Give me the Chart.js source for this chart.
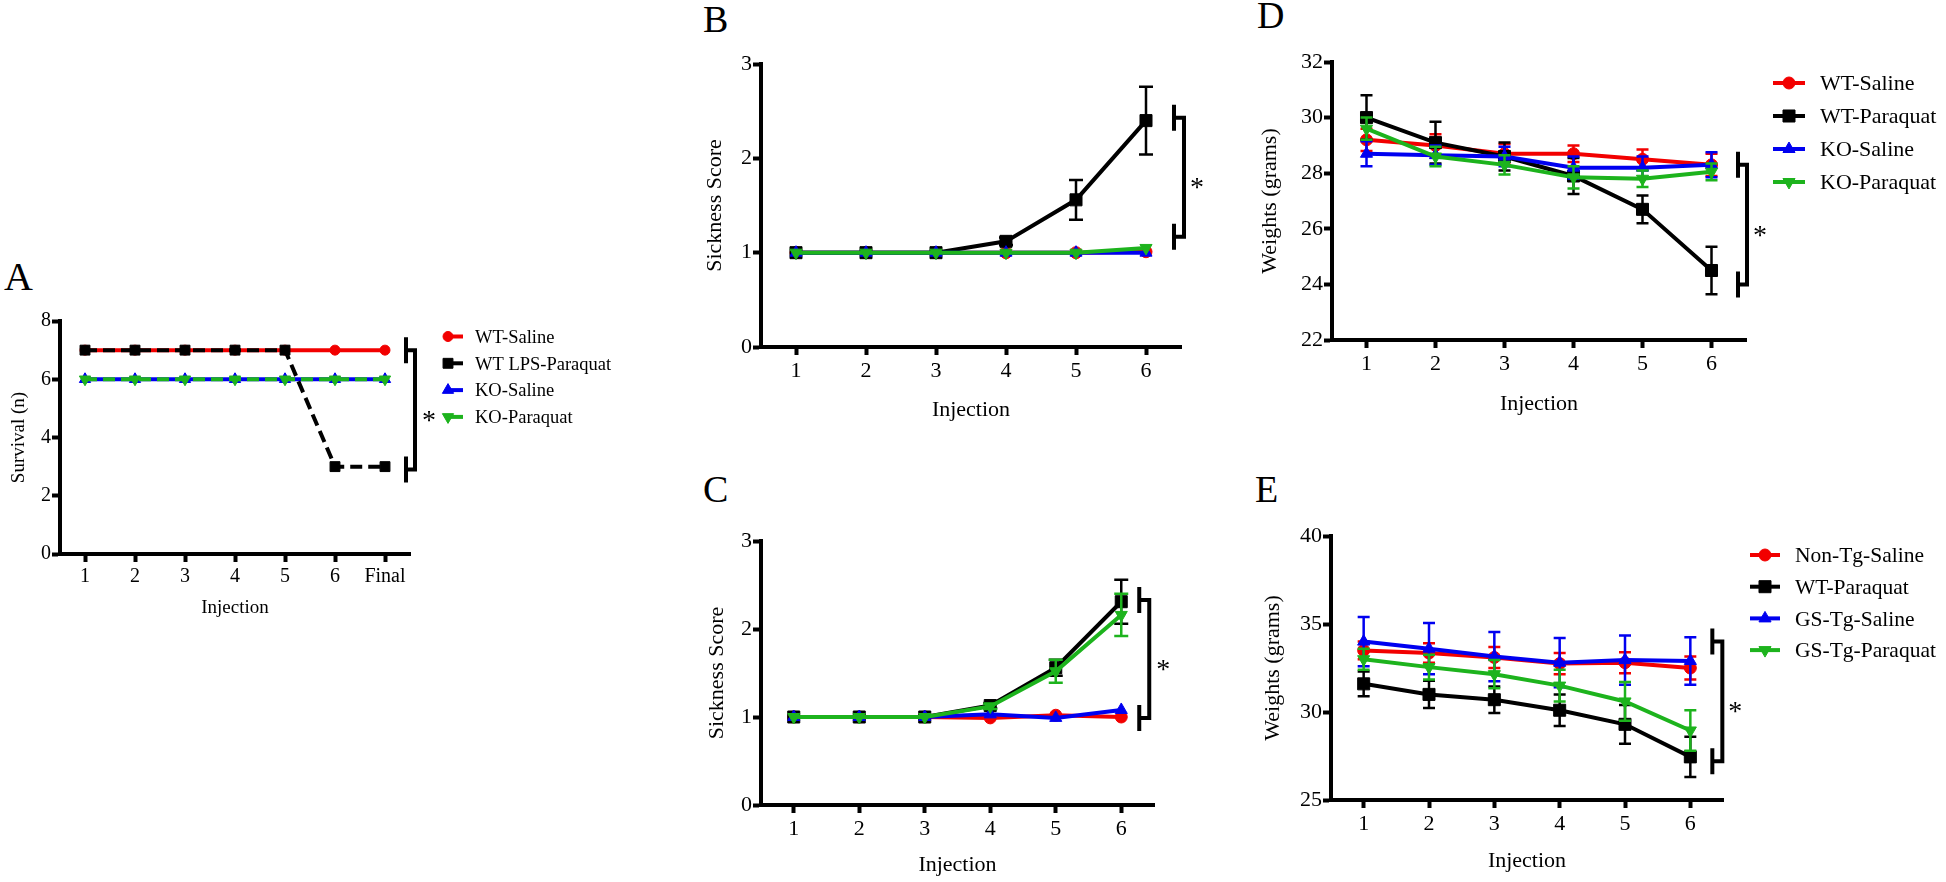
<!DOCTYPE html>
<html><head><meta charset="utf-8">
<script src="https://cdn.jsdelivr.net/npm/chart.js@4/dist/chart.umd.min.js"></script>
<style>
html,body{margin:0;padding:0;background:#fff;width:1946px;height:882px;overflow:hidden;position:relative}
canvas{position:absolute}
.lbl{position:absolute;font-family:'Liberation Serif','Times New Roman',serif;line-height:1;color:#000}
</style></head><body>
<div class="lbl" style="left:4px;top:257px;font-size:40px">A</div>
<div class="lbl" style="left:703px;top:0px;font-size:38px">B</div>
<div class="lbl" style="left:703px;top:470px;font-size:38px">C</div>
<div class="lbl" style="left:1257px;top:-4px;font-size:38px">D</div>
<div class="lbl" style="left:1255px;top:470px;font-size:38px">E</div>
<canvas id="cA" width="640" height="373" style="left:0px;top:250px"></canvas>
<canvas id="cB" width="560" height="427" style="left:690px;top:0px"></canvas>
<canvas id="cC" width="540" height="412" style="left:690px;top:470px"></canvas>
<canvas id="cD" width="706" height="421" style="left:1240px;top:0px"></canvas>
<canvas id="cE" width="706" height="408" style="left:1240px;top:470px"></canvas>
<script>
// ---------- DATA ----------
const injectionsA = ['1','2','3','4','5','6','Final'];
const injections = ['1','2','3','4','5','6'];

const labelsA = ['WT-Saline','WT LPS-Paraquat','KO-Saline','KO-Paraquat'];
const aWTSaline   = [7,7,7,7,7,7,7];
const aWTParaquat = [7,7,7,7,7,3,3];
const aKOSaline   = [6,6,6,6,6,6,6];
const aKOParaquat = [6,6,6,6,6,6,6];
const aBracket = [7.0, 2.9];

const labelsBCD = ['WT-Saline','WT-Paraquat','KO-Saline','KO-Paraquat'];
const bWTSaline   = [1,1,1,1,1,1.01];
const bWTParaquat = [1,1,1,1.12,1.56,2.40];
const bWTParaquatErr = [0,0,0,0.04,0.21,0.36];
const bKOSaline   = [1,1,1,1,1,1.0];
const bKOParaquat = [1,1,1,1,1,1.05];
const bBracket = [2.43, 1.17];

const cWTSaline   = [1,1,1,0.99,1.02,1.0];
const cWTParaquat = [1,1,1,1.13,1.56,2.31];
const cWTParaquatErr = [0,0,0,0.03,0.09,0.25];
const cKOSaline   = [1,1,1,1.03,0.99,1.08];
const cKOParaquat = [1,1,1,1.12,1.52,2.16];
const cKOParaquatErr = [0,0,0,0.03,0.13,0.24];
const cBracket = [2.33, 0.99];

const dWTSaline      = [29.2,29.0,28.7,28.7,28.5,28.3];
const dWTSalineErr   = [0.4,0.4,0.35,0.3,0.35,0.4];
const dWTParaquat    = [30.0,29.1,28.6,27.9,26.7,24.5];
const dWTParaquatErr = [0.8,0.75,0.5,0.65,0.5,0.85];
const dKOSaline      = [28.7,28.65,28.6,28.2,28.2,28.3];
const dKOSalineErr   = [0.45,0.35,0.35,0.4,0.4,0.45];
const dKOParaquat    = [29.6,28.6,28.3,27.85,27.8,28.05];
const dKOParaquatErr = [0.4,0.35,0.35,0.4,0.3,0.3];
const dBracket = [28.3, 24.0];

const labelsE = ['Non-Tg-Saline','WT-Paraquat','GS-Tg-Saline','GS-Tg-Paraquat'];
const eNonTgSaline      = [33.5,33.35,33.1,32.75,32.8,32.5];
const eNonTgSalineErr   = [0.5,0.55,0.6,0.6,0.6,0.65];
const eWTParaquat       = [31.6,31.0,30.7,30.1,29.3,27.45];
const eWTParaquatErr    = [0.7,0.77,0.75,0.9,1.1,1.15];
const eGSTgSaline       = [34.0,33.6,33.15,32.8,32.95,32.9];
const eGSTgSalineErr    = [1.4,1.45,1.4,1.4,1.4,1.35];
const eGSTgParaquat     = [33.0,32.55,32.15,31.5,30.6,28.95];
const eGSTgParaquatErr  = [0.6,0.7,0.8,0.9,1.1,1.15];
const eBracket = [34.0, 27.2];

// ---------- STYLE ----------
Chart.defaults.font.family = "'Liberation Serif','Times New Roman',serif";
Chart.defaults.color = '#000';
const RED='#f20000', BLACK='#000000', BLUE='#0000f0', GREEN='#1db31d';

function series(label, data, errors, color, style, rot, dash, order, r, lw){
  return {label, data, errors, borderColor:color, backgroundColor:color,
    pointBackgroundColor:color, pointBorderColor:color, pointStyle:style, pointRotation:rot,
    pointRadius:r, pointHoverRadius:r, pointBorderWidth:1, borderWidth:lw, borderDash:dash,
    tension:0, order, fill:false};
}

function drawMarker(ctx, style, r, rot, x, y, color){
  ctx.save(); ctx.fillStyle=color; ctx.strokeStyle=color; ctx.lineWidth=1; ctx.setLineDash([]);
  ctx.translate(x,y); ctx.rotate((rot||0)*Math.PI/180); ctx.beginPath();
  if(style==='circle'){ ctx.arc(0,0,r,0,2*Math.PI); }
  else if(style==='rect'){ const s=r*Math.SQRT1_2; ctx.rect(-s,-s,2*s,2*s); }
  else { for(let k=0;k<3;k++){ const a=k*2*Math.PI/3; const px=Math.sin(a)*r, py=-Math.cos(a)*r; if(k) ctx.lineTo(px,py); else ctx.moveTo(px,py);} ctx.closePath(); }
  ctx.fill(); ctx.stroke(); ctx.restore();
}

const decor = {
  id:'decor',
  beforeDatasetDraw(chart, args, o){
    const ds = chart.data.datasets[args.index];
    if(!ds.errors) return;
    const ctx=chart.ctx, xs=chart.scales.x, ys=chart.scales.y;
    ctx.save(); ctx.strokeStyle=ds.borderColor; ctx.lineWidth=o.errWidth||2.5; ctx.setLineDash([]);
    ds.data.forEach((v,i)=>{
      const e=ds.errors[i]; if(!e) return;
      const x=xs.getPixelForValue(i), y1=ys.getPixelForValue(v+e), y2=ys.getPixelForValue(v-e), c=o.cap||6;
      ctx.beginPath(); ctx.moveTo(x,y1); ctx.lineTo(x,y2);
      ctx.moveTo(x-c,y1); ctx.lineTo(x+c,y1); ctx.moveTo(x-c,y2); ctx.lineTo(x+c,y2); ctx.stroke();
    });
    ctx.restore();
  },
  afterDraw(chart, args, o){
    const ctx=chart.ctx, xs=chart.scales.x, ys=chart.scales.y;
    // bracket
    if(o.bracket){
      const b=o.bracket, n=chart.data.labels.length;
      const xl=xs.getPixelForValue(n-1);
      const y1=ys.getPixelForValue(b.values[0]), y2=ys.getPixelForValue(b.values[1]);
      const xs_=xl+b.serifDx, xv=xl+b.vertDx, h=b.serifHalf;
      ctx.save(); ctx.strokeStyle='#000'; ctx.lineWidth=4; ctx.lineCap='butt'; ctx.setLineDash([]);
      ctx.beginPath();
      ctx.moveTo(xs_,y1-h); ctx.lineTo(xs_,y1+h);
      ctx.moveTo(xs_-2,y1); ctx.lineTo(xv,y1); ctx.lineTo(xv,y2); ctx.lineTo(xs_-2,y2);
      ctx.moveTo(xs_,y2-h); ctx.lineTo(xs_,y2+h);
      ctx.stroke();
      ctx.fillStyle='#000'; ctx.font=b.starFont; ctx.textAlign='center'; ctx.textBaseline='alphabetic';
      const cy=(y1+y2)/2+5;
      ctx.fillText('*', xl+b.starDx, cy+b.starShift);
      ctx.restore();
    }
    // legend
    if(o.legend){
      const L=o.legend;
      chart.data.datasets.forEach((ds,i)=>{
        const y=L.y0+i*L.dy;
        ctx.save(); ctx.strokeStyle=ds.borderColor; ctx.lineWidth=L.lw; ctx.setLineDash([]);
        ctx.beginPath(); ctx.moveTo(L.x1,y); ctx.lineTo(L.x2,y); ctx.stroke(); ctx.restore();
        drawMarker(ctx, ds.pointStyle, ds.pointRadius, ds.pointRotation, L.mx, y, ds.borderColor);
        ctx.save(); ctx.fillStyle='#000'; ctx.font=L.font; ctx.textAlign='left'; ctx.textBaseline='alphabetic';
        ctx.fillText(ds.label, L.tx, y+L.baseShift); ctx.restore();
      });
    }
  }
};

function axes(o){
  const grid={display:true, drawOnChartArea:false, drawTicks:true, tickLength:8, tickWidth:4, tickColor:'#000', color:'#000'};
  const border={display:true, width:4, color:'#000'};
  return {
    x:{type:'category', offset:true, grid, border,
       ticks:{font:{size:o.tick}, color:'#000', padding:o.xpad, maxRotation:0, autoSkip:false},
       title:{display:true, text:'Injection', font:{size:o.title}, color:'#000', padding:{top:4,bottom:4}},
       afterFit:s=>{s.height=o.xh;}},
    y:{type:'linear', min:o.min, max:o.max, grid, border,
       ticks:{stepSize:o.step, font:{size:o.tick}, color:'#000', padding:1},
       title:{display:true, text:o.yTitle, font:{size:o.title}, color:'#000', padding:{top:o.ytp,bottom:0}},
       afterFit:s=>{s.width=o.yw;}}
  };
}

function make(id, labels, datasets, ax, pad, decorOpts){
  return new Chart(document.getElementById(id), {
    type:'line',
    data:{labels, datasets},
    options:{responsive:false, animation:false, devicePixelRatio:1, events:[],
      layout:{padding:pad, autoPadding:false},
      scales:axes(ax),
      plugins:{legend:{display:false}, tooltip:{enabled:false}, decor:decorOpts}},
    plugins:[decor]
  });
}

// ---------- PANEL A ----------
make('cA', injectionsA, [
  series(labelsA[0], aWTSaline, null, RED, 'circle', 0, [], 3, 5, 4),
  series(labelsA[1], aWTParaquat, null, BLACK, 'rect', 0, [12,6], 1, 7, 4),
  series(labelsA[2], aKOSaline, null, BLUE, 'triangle', 0, [], 2, 6.5, 4),
  series(labelsA[3], aKOParaquat, null, GREEN, 'triangle', 180, [12,6], 0, 6.5, 4)
], {tick:20, title:19, xpad:3, xh:69, yw:60, min:0, max:8, step:2, yTitle:'Survival (n)', ytp:8},
 {top:71, right:230, left:0, bottom:0},
 {bracket:{values:aBracket, serifDx:21, vertDx:30, serifHalf:13, starDx:44, starFont:'28px "Liberation Serif"', starShift:14},
  legend:{x1:448, x2:463, mx:448, tx:475, y0:86.5, dy:26.8, lw:4, font:'18.5px "Liberation Serif"', baseShift:6.2}});

// ---------- PANEL B ----------
make('cB', injections, [
  series(labelsBCD[0], bWTSaline, null, RED, 'circle', 0, [], 3, 6, 4),
  series(labelsBCD[1], bWTParaquat, bWTParaquatErr, BLACK, 'rect', 0, [], 2, 8.5, 4),
  series(labelsBCD[2], bKOSaline, null, BLUE, 'triangle', 0, [], 1, 7, 4),
  series(labelsBCD[3], bKOParaquat, null, GREEN, 'triangle', 180, [], 0, 7, 4)
], {tick:22, title:22, xpad:3, xh:80, yw:71, min:0, max:3, step:1, yTitle:'Sickness Score', ytp:12},
 {top:64, right:69, left:0, bottom:0},
 {cap:7, errWidth:2.5, bracket:{values:bBracket, serifDx:28, vertDx:38, serifHalf:13, starDx:51, starFont:'28px "Liberation Serif"', starShift:14}});

// ---------- PANEL C ----------
make('cC', injections, [
  series(labelsBCD[0], cWTSaline, null, RED, 'circle', 0, [], 3, 6, 4),
  series(labelsBCD[1], cWTParaquat, cWTParaquatErr, BLACK, 'rect', 0, [], 2, 8.5, 4),
  series(labelsBCD[2], cKOSaline, null, BLUE, 'triangle', 0, [], 1, 7, 4),
  series(labelsBCD[3], cKOParaquat, cKOParaquatErr, GREEN, 'triangle', 180, [], 0, 7, 4)
], {tick:22, title:22, xpad:3, xh:77, yw:71, min:0, max:3, step:1, yTitle:'Sickness Score', ytp:14},
 {top:71, right:76, left:0, bottom:0},
 {cap:7, errWidth:2.5, bracket:{values:cBracket, serifDx:18, vertDx:28, serifHalf:13, starDx:42, starFont:'28px "Liberation Serif"', starShift:14}});

// ---------- PANEL D ----------
make('cD', injections, [
  series(labelsBCD[0], dWTSaline, dWTSalineErr, RED, 'circle', 0, [], 3, 6, 4),
  series(labelsBCD[1], dWTParaquat, dWTParaquatErr, BLACK, 'rect', 0, [], 2, 8.5, 4),
  series(labelsBCD[2], dKOSaline, dKOSalineErr, BLUE, 'triangle', 0, [], 1, 7, 4),
  series(labelsBCD[3], dKOParaquat, dKOParaquatErr, GREEN, 'triangle', 180, [], 0, 7, 4)
], {tick:22, title:22, xpad:3, xh:81, yw:92, min:22, max:32, step:2, yTitle:'Weights (grams)', ytp:17},
 {top:62, right:200, left:0, bottom:0},
 {cap:6, errWidth:2.5, bracket:{values:dBracket, serifDx:26.5, vertDx:35.5, serifHalf:13, starDx:48.5, starFont:'28px "Liberation Serif"', starShift:14},
  legend:{x1:533, x2:565, mx:549, tx:580, y0:83, dy:33, lw:4, font:'22px "Liberation Serif"', baseShift:7.3}});

// ---------- PANEL E ----------
make('cE', injections, [
  series(labelsE[0], eNonTgSaline, eNonTgSalineErr, RED, 'circle', 0, [], 3, 6, 4),
  series(labelsE[1], eWTParaquat, eWTParaquatErr, BLACK, 'rect', 0, [], 2, 8.5, 4),
  series(labelsE[2], eGSTgSaline, eGSTgSalineErr, BLUE, 'triangle', 0, [], 1, 7, 4),
  series(labelsE[3], eGSTgParaquat, eGSTgParaquatErr, GREEN, 'triangle', 180, [], 0, 7, 4)
], {tick:22, title:22, xpad:3, xh:78, yw:91, min:25, max:40, step:5, yTitle:'Weights (grams)', ytp:20},
 {top:66, right:223, left:0, bottom:0},
 {cap:6, errWidth:2.5, bracket:{values:eBracket, serifDx:22, vertDx:32, serifHalf:13, starDx:45, starFont:'28px "Liberation Serif"', starShift:14},
  legend:{x1:510, x2:540, mx:525, tx:555, y0:85, dy:31.7, lw:4, font:'21.5px "Liberation Serif"', baseShift:7.1}});
</script>
</body></html>
